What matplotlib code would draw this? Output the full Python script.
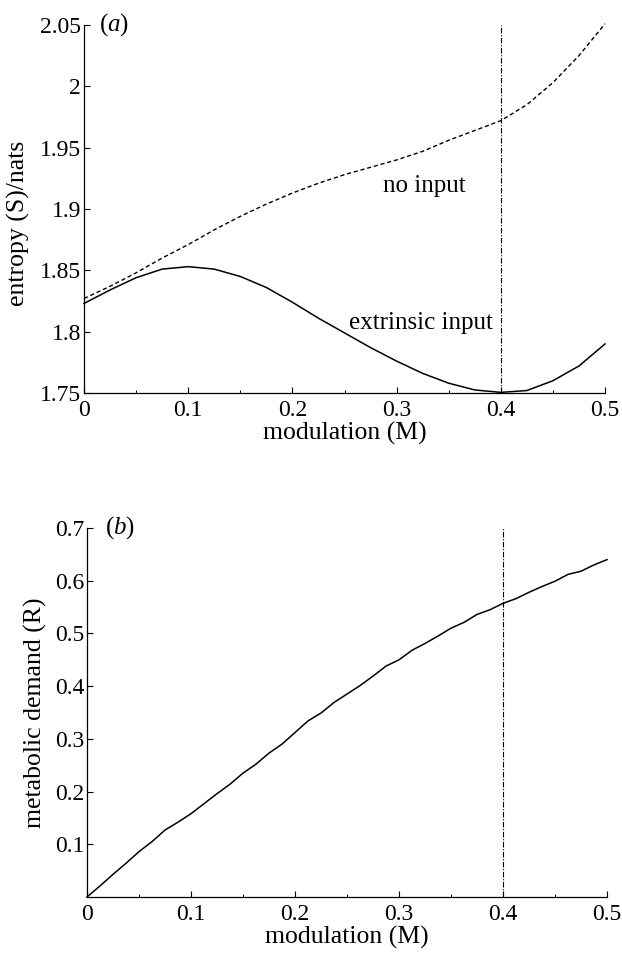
import numpy as np
import matplotlib
matplotlib.use("Agg")
import matplotlib.pyplot as plt
from matplotlib.ticker import MultipleLocator, FixedLocator

# ---- data ----
M_a = [0.0, 0.025, 0.05, 0.075, 0.1, 0.125, 0.15, 0.175, 0.2, 0.225, 0.25,
       0.275, 0.3, 0.325, 0.35, 0.375, 0.4, 0.425, 0.45, 0.475, 0.5]
S_no_input = [1.827, 1.837, 1.848, 1.860, 1.871, 1.883, 1.894, 1.904, 1.913, 1.921, 1.928,
              1.934, 1.940, 1.947, 1.956, 1.964, 1.972, 1.985, 2.003, 2.025, 2.051]
S_extrinsic = [1.823, 1.834, 1.844, 1.851, 1.853, 1.851, 1.845, 1.836, 1.824, 1.811, 1.799,
               1.787, 1.776, 1.766, 1.758, 1.7525, 1.7505, 1.752, 1.760, 1.772, 1.790]

M_b = [0.0, 0.0125, 0.025, 0.0375, 0.05, 0.0625, 0.075, 0.0875, 0.1, 0.1125, 0.125,
       0.1375, 0.15, 0.1625, 0.175, 0.1875, 0.2, 0.2125, 0.225, 0.2375, 0.25,
       0.2625, 0.275, 0.2875, 0.3, 0.3125, 0.325, 0.3375, 0.35, 0.3625, 0.375,
       0.3875, 0.4, 0.4125, 0.425, 0.4375, 0.45, 0.4625, 0.475, 0.4875, 0.5]
R_demand = [0.000, 0.021, 0.043, 0.064, 0.086, 0.105, 0.127, 0.142, 0.158, 0.177, 0.196,
            0.214, 0.235, 0.252, 0.273, 0.290, 0.312, 0.334, 0.349, 0.369, 0.385,
            0.401, 0.419, 0.438, 0.450, 0.468, 0.481, 0.495, 0.510, 0.521, 0.536,
            0.545, 0.557, 0.566, 0.578, 0.589, 0.599, 0.612, 0.618, 0.630, 0.640]

M_opt = 0.4

xticks = [0, 0.1, 0.2, 0.3, 0.4, 0.5]
xticklabels = ["0", "0.1", "0.2", "0.3", "0.4", "0.5"]
yticks_a = [1.75, 1.8, 1.85, 1.9, 1.95, 2.0, 2.05]
yticklabels_a = ["1.75", "1.8", "1.85", "1.9", "1.95", "2", "2.05"]
yticks_b = [0.1, 0.2, 0.3, 0.4, 0.5, 0.6, 0.7]
yticklabels_b = ["0.1", "0.2", "0.3", "0.4", "0.5", "0.6", "0.7"]

# ---- style ----
plt.rcParams['font.family'] = ['Liberation Serif', 'DejaVu Serif']
plt.rcParams['mathtext.fontset'] = 'custom'
plt.rcParams['mathtext.rm'] = 'Liberation Serif'
plt.rcParams['mathtext.it'] = 'Liberation Serif:italic'

TICK_FS = 17
LABEL_FS = 18.5
ANN_FS = 18

fig = plt.figure(figsize=(6.22, 9.55), dpi=100)
ax_a = fig.add_axes([84/622, 1-393/955, (605-84)/622, (393-25)/955])
ax_b = fig.add_axes([87/622, 1-897/955, (607-87)/622, (897-528)/955])

def style(ax):
    for s in ['top', 'right']:
        ax.spines[s].set_visible(False)
    for s in ['left', 'bottom']:
        ax.spines[s].set_linewidth(0.9)
    ax.tick_params(which='major', direction='in', length=4.5, width=0.8,
                   labelsize=TICK_FS)
    ax.tick_params(which='minor', direction='in', length=2.5, width=0.7)
    ax.tick_params(axis='y', pad=2)
    ax.tick_params(axis='x', pad=5)
    ax.set_xlim(0, 0.5)
    ax.set_xticks(xticks)
    ax.set_xticklabels(xticklabels)
    ax.xaxis.set_minor_locator(FixedLocator([0.05, 0.15, 0.25, 0.35, 0.45]))
    ax.set_xlabel("modulation (M)", fontsize=LABEL_FS, labelpad=1)

# ---- panel (a) ----
ax = ax_a
style(ax)
ax.plot(M_a, S_no_input, color='black', lw=1.0, linestyle=(0, (3, 2)), clip_on=False)
ax.plot(M_a, S_extrinsic, color='black', lw=1.1, clip_on=False)
ax.axvline(M_opt, color='black', lw=0.8, linestyle=(0, (5, 1.5, 1, 1.5)))
ax.set_ylim(1.75, 2.05)
ax.set_yticks(yticks_a)
ax.set_yticklabels(yticklabels_a)
ax.set_ylabel("entropy (S)/nats", fontsize=LABEL_FS)
ax.yaxis.set_label_coords(-0.104, 0.46)
ax.text(0.327, 1.919, "no input", fontsize=ANN_FS, ha='center', va='center')
ax.text(0.323, 1.807, "extrinsic input", fontsize=ANN_FS, ha='center', va='center')
ax.text(0.014, 2.05, r"($\mathit{a}$)", fontsize=ANN_FS, ha='left', va='center')

# ---- panel (b) ----
ax = ax_b
style(ax)
ax.plot(M_b, R_demand, color='black', lw=1.1, clip_on=False)
ax.axvline(M_opt, color='black', lw=0.8, linestyle=(0, (5, 1.5, 1, 1.5)))
ax.set_ylim(0, 0.7)
ax.set_yticks(yticks_b)
ax.set_yticklabels(yticklabels_b)
ax.set_ylabel("metabolic demand (R)", fontsize=LABEL_FS, labelpad=6)
ax.text(0.017, 0.7, r"($\mathit{b}$)", fontsize=ANN_FS, ha='left', va='center')

fig.savefig("out.png", dpi=100)
